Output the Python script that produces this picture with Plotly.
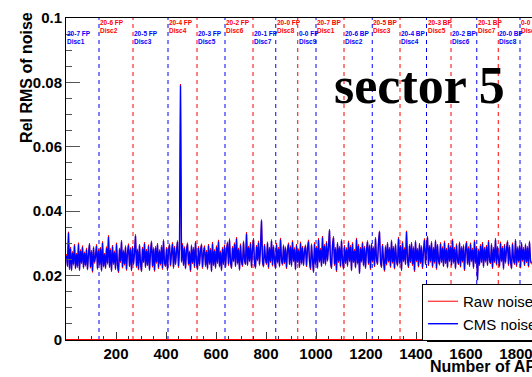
import numpy as np
import plotly.graph_objects as go

# Relative RMS noise per APV, sampled every 4 APVs (values in units of 1e-4)
cms_noise = [
    262,231,333,222,284,218,271,236,293,224,266,229,297,219,276,240,288,226,270,233,
    281,221,268,296,227,274,214,286,242,259,292,223,277,235,283,217,301,230,266,225,
    285,239,320,228,279,216,290,238,272,222,297,233,213,281,244,305,227,275,236,288,
    220,271,294,231,282,218,287,237,269,323,229,278,221,293,240,215,284,243,299,228,
    277,234,291,219,273,303,230,282,217,286,242,296,225,276,236,289,223,307,239,231,
    283,219,278,294,233,270,298,226,287,237,275,304,229,281,790,245,295,234,285,224,
    279,297,236,272,216,291,240,283,228,302,243,221,286,235,277,294,226,271,288,232,
    274,223,293,238,280,215,299,234,276,226,288,241,306,230,272,218,283,237,291,228,
    278,300,235,310,242,225,286,246,297,231,314,239,281,220,294,244,232,303,248,237,
    330,234,287,246,299,228,282,311,240,226,290,249,303,235,286,370,243,230,293,251,
    238,300,226,284,244,307,233,289,247,224,296,242,283,230,312,248,236,291,240,285,
    225,279,297,237,288,232,304,246,282,221,293,243,278,228,300,239,287,234,275,291,
    231,283,306,244,222,294,249,213,298,237,286,226,311,245,280,231,318,240,292,236,
    301,248,288,340,242,225,294,317,235,283,216,299,244,286,230,307,247,223,290,240,
    282,232,303,246,289,218,298,243,277,227,312,239,292,209,284,245,300,233,287,225,
    279,304,238,291,222,296,245,285,231,314,250,237,302,335,243,228,293,249,217,288,
    236,299,245,283,229,306,242,286,224,294,248,233,315,240,290,219,301,246,282,237,
    335,250,228,292,243,299,235,285,216,304,246,281,230,296,241,288,225,277,310,237,
    283,318,234,290,245,301,229,284,242,306,223,293,248,236,298,244,285,231,303,240,
    281,227,296,246,288,233,309,242,283,224,294,249,237,300,230,286,245,291,219,279,
    302,238,285,232,297,246,281,226,306,241,287,186,278,235,292,243,299,229,284,245,
    290,234,305,248,240,295,225,283,244,311,236,287,251,230,300,246,286,223,293,242,
    281,304,235,289,246,224,297,250,238,308,232,285,245,291,227,299,248,283,234,294,
    243,286,230,303,247,239,
]

raw_noise = [
    267,227,336,218,289,214,275,232,298,220,270,225,302,215,281,236,293,222,274,229,
    286,217,272,301,223,279,210,290,238,263,297,219,282,231,288,213,306,226,270,221,
    290,235,325,224,284,212,295,234,277,218,302,229,209,286,240,310,223,280,232,293,
    216,276,299,227,287,214,292,233,274,328,225,283,217,298,236,211,289,239,304,224,
    282,230,296,215,278,308,226,287,213,291,238,301,221,281,232,294,219,312,235,227,
    288,215,283,299,229,275,303,222,292,233,280,309,225,286,795,241,300,230,290,220,
    284,302,232,277,212,296,236,288,224,307,239,217,291,231,282,299,222,276,293,228,
    279,219,298,234,285,211,304,230,281,222,293,237,311,226,277,214,288,233,296,224,
    283,305,231,315,238,221,291,242,302,227,319,235,286,216,299,240,228,308,244,233,
    335,230,292,242,304,224,287,316,236,222,295,245,308,231,291,374,239,226,298,247,
    234,305,222,289,240,312,229,294,243,220,301,238,288,226,317,244,232,296,236,290,
    221,284,302,233,293,228,309,242,287,217,298,239,283,224,305,235,292,230,280,296,
    227,288,311,240,218,299,245,209,303,233,291,222,316,241,285,227,323,236,297,232,
    306,244,293,344,238,221,299,322,231,288,212,304,240,291,226,312,243,219,295,236,
    287,228,308,242,294,214,303,239,282,223,317,235,297,205,289,241,305,229,292,221,
    284,309,234,296,218,301,241,290,227,319,246,233,307,339,239,224,298,245,213,293,
    232,304,241,288,225,311,238,291,220,299,244,229,320,236,295,215,306,242,287,233,
    339,246,224,297,239,304,231,290,212,309,242,286,226,301,237,293,221,282,315,233,
    288,323,230,295,241,306,225,289,238,311,219,298,244,232,303,240,290,227,308,236,
    286,223,301,242,293,229,314,238,288,220,299,245,233,305,226,291,241,296,215,284,
    307,234,290,228,302,242,286,222,311,237,292,190,283,231,297,239,304,225,289,241,
    295,230,310,244,236,300,221,288,240,316,232,292,247,226,305,242,291,219,298,238,
    286,309,231,294,242,220,302,246,234,313,228,290,241,296,223,304,244,288,230,299,
    239,291,226,308,243,235,
]

# Disc boundaries (last APV of each disc) and disc labels
disc_bounds = [132, 268, 408, 524, 636, 748, 839, 927, 1000,
               1112, 1225, 1336, 1442, 1540, 1643, 1729, 1816]
disc_labels = [
    "20-7 FP<br>Disc1", "20-6 FP<br>Disc2", "20-5 FP<br>Disc3", "20-4 FP<br>Disc4",
    "20-3 FP<br>Disc5", "20-2 FP<br>Disc6", "20-1 FP<br>Disc7", "20-0 FP<br>Disc8",
    "0-0 FP<br>Disc9",
    "20-7 BP<br>Disc1", "20-6 BP<br>Disc2", "20-5 BP<br>Disc3", "20-4 BP<br>Disc4",
    "20-3 BP<br>Disc5", "20-2 BP<br>Disc6", "20-1 BP<br>Disc7", "20-0 BP<br>Disc8",
    "0-0 BP<br>Disc9",
]

x_max = 1864
y_ticks = [0, 0.02, 0.04, 0.06, 0.08, 0.1]
y_tick_text = ["0", "0.02", "0.04", "0.06", "0.08", "0.1"]
x_ticks = [200, 400, 600, 800, 1000, 1200, 1400, 1600, 1800]

RED = "#ff0000"
BLUE = "#0000ff"
FONT = "Liberation Sans"

apv = np.arange(len(cms_noise)) * 4 + 2
raw = np.array(raw_noise) / 1e4
cms = np.array(cms_noise) / 1e4

fig = go.Figure()
fig.add_trace(go.Scatter(x=apv, y=raw, mode="lines", name="Raw noise",
                         line=dict(color=RED, width=1, simplify=False)))
fig.add_trace(go.Scatter(x=apv, y=cms, mode="lines", name="CMS noise",
                         line=dict(color=BLUE, width=1.4, simplify=False)))

shapes = []
annotations = []
for k, xb in enumerate(disc_bounds):
    col = BLUE if k % 2 == 0 else RED
    shapes.append(dict(type="line", xref="x", yref="paper", x0=xb, x1=xb, y0=0, y1=1,
                       line=dict(color=col, width=1, dash="4px,4px"), layer="below"))

starts = [0] + disc_bounds
for k, (xs, txt) in enumerate(zip(starts, disc_labels)):
    col = BLUE if k % 2 == 0 else RED
    annotations.append(dict(x=xs, xref="x", y=1.0 if col == RED else 0.967, yref="paper",
                            xanchor="left", yanchor="top", text=txt, showarrow=False,
                            align="left", borderpad=0,
                            font=dict(family=FONT, size=6.5, color=col, weight="bold")))

# red zero line of the raw-noise histogram
shapes.append(dict(type="line", xref="x", yref="y", x0=0, x1=x_max, y0=0, y1=0,
                   line=dict(color=RED, width=2)))
# legend drop shadow
shapes.append(dict(type="rect", xref="paper", yref="paper",
                   x0=0.7747, x1=1.1, y0=-0.0062, y1=0.0093,
                   fillcolor="black", line=dict(width=0)))

annotations.append(dict(x=0.571, xref="paper", y=0.789, yref="paper",
                        xanchor="left", yanchor="middle", text="sector 5", showarrow=False,
                        font=dict(family="Liberation Serif", size=52, color="black",
                                  weight="bold")))
annotations.append(dict(x=-0.0837, xref="paper", y=0.817, yref="paper",
                        xanchor="center", yanchor="middle", text="Rel RMS of noise",
                        textangle=-90, showarrow=False,
                        font=dict(family=FONT, size=16, color="black", weight="bold")))
annotations.append(dict(x=0.777, xref="paper", y=-0.0838, yref="paper",
                        xanchor="left", yanchor="middle", text="Number of APVs",
                        showarrow=False,
                        font=dict(family=FONT, size=16, color="black", weight="bold")))

fig.update_layout(
    width=532, height=377, autosize=False,
    margin=dict(l=66, r=0, t=18, b=37, pad=0, autoexpand=False),
    paper_bgcolor="white", plot_bgcolor="white",
    showlegend=True,
    legend=dict(x=0.764, y=0.174, xanchor="left", yanchor="top",
                bgcolor="white", bordercolor="black", borderwidth=1,
                font=dict(family=FONT, size=15, color="black"),
                itemwidth=30, tracegroupgap=0),
    shapes=shapes, annotations=annotations,
)
fig.update_xaxes(range=[0, x_max], tickvals=x_ticks, ticks="inside", ticklen=8,
                 tickcolor="#333", showgrid=False, zeroline=False,
                 showline=True, linecolor="black", linewidth=1, mirror=True,
                 ticklabeloverflow="allow",
                 tickfont=dict(family=FONT, size=15, color="black", weight="bold"),
                 minor=dict(dtick=50, ticks="inside", ticklen=4, tickcolor="#333",
                            showgrid=False))
fig.update_yaxes(range=[0, 0.1], tickvals=y_ticks, ticktext=y_tick_text,
                 ticks="inside", ticklen=14, tickcolor="#555", showgrid=False,
                 zeroline=False, showline=True, linecolor="black", linewidth=1,
                 mirror=False,
                 tickfont=dict(family=FONT, size=15, color="black", weight="bold"),
                 minor=dict(dtick=0.005, ticks="inside", ticklen=6, tickcolor="#555",
                            showgrid=False))

fig.write_html("out.html")
